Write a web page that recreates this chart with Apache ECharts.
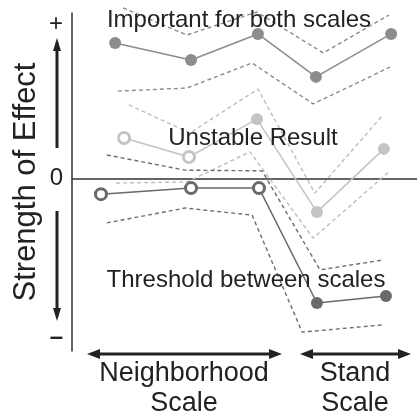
<!DOCTYPE html>
<html>
<head>
<meta charset="utf-8">
<script src="https://cdn.jsdelivr.net/npm/echarts@6/dist/echarts.min.js"></script>
<style>html,body{margin:0;padding:0;background:#fff;}#c{width:417px;height:418px;}</style>
</head>
<body>
<div id="c"></div>
<script>
// ---- data (abstract units: x 0..10, y -5.1..4.9) ----
var importantX = [1.25, 3.45, 5.39, 7.07, 9.25];
var importantY = [4.01, 3.51, 4.28, 3.01, 4.28];
var importantUpX = [1.48, 3.33, 5.36, 7.28, 9.19];
var importantUpY = [5.05, 4.25, 4.93, 3.72, 4.84];
var importantLoX = [1.33, 3.33, 5.22, 6.99, 9.22];
var importantLoY = [2.59, 2.68, 3.42, 2.21, 3.30];

var unstableX = [1.51, 3.39, 5.36, 7.10, 9.04];
var unstableY = [1.20, 0.64, 1.76, -0.99, 0.88];
var unstableHollow = [true, true, false, false, false];
var unstableUpX = [1.65, 3.42, 5.39, 7.04, 9.01];
var unstableUpY = [2.18, 1.35, 2.65, -0.43, 1.88];
var unstableLoX = [1.28, 3.33, 5.16, 6.99, 9.22];
var unstableLoY = [-0.13, -0.10, 0.79, -1.76, 0.23];

var thresholdX = [0.84, 3.45, 5.42, 7.10, 9.10];
var thresholdY = [-0.46, -0.28, -0.28, -3.68, -3.47];
var thresholdHollow = [true, true, true, false, false];
var thresholdUpX = [1.01, 3.28, 5.51, 7.19, 8.99];
var thresholdUpY = [0.70, 0.25, 0.23, -2.70, -2.41];
var thresholdLoX = [1.01, 3.28, 5.22, 6.67, 8.99];
var thresholdLoY = [-1.31, -0.87, -1.08, -4.54, -4.33];

var yTickValues = [4.57, 0, -4.69];
var yTickText = ['+', '0', '{d|\u2013}'];

function pairs(xs, ys) { return xs.map(function (x, i) { return [x, ys[i]]; }); }
function points(xs, ys, hollow, color) {
  return xs.map(function (x, i) {
    var h = hollow && hollow[i];
    return {
      value: [x, ys[i]],
      symbolSize: h ? 11 : 12,
      itemStyle: h ? { color: '#fff', borderColor: color, borderWidth: 3 } : { color: color, borderWidth: 0 }
    };
  });
}
function band(xs, ys, color) {
  return {
    type: 'line', data: pairs(xs, ys), showSymbol: false, symbol: 'none', clip: false, silent: true, z: 1,
    lineStyle: { color: color, width: 1.4, type: [4, 3] }
  };
}
function main(xs, ys, hollow, color) {
  return {
    type: 'line', data: points(xs, ys, hollow, color), symbol: 'circle', clip: false, silent: true, z: 3,
    lineStyle: { color: color, width: 1.5 }
  };
}

var cImp = '#8c8c8c', cUns = '#c4c4c4', cThr = '#6a6a6a';
var font = '"Liberation Sans", Arial, sans-serif';
var ink = '#222';

function txt(x, y, s, size, rot) {
  return { type: 'text', x: x, y: y, rotation: rot || 0, z: 100,
    style: { text: s, fill: ink, font: size + 'px ' + font, textAlign: 'center', textVerticalAlign: 'middle' } };
}
function hArrow(x1, x2, y, left, right) {
  var els = [{ type: 'line', z: 100, shape: { x1: x1 + (left ? 8 : 0), y1: y, x2: x2 - (right ? 8 : 0), y2: y }, style: { stroke: ink, lineWidth: 3 } }];
  if (left) els.push({ type: 'polygon', z: 100, shape: { points: [[x1, y], [x1 + 13, y - 5], [x1 + 13, y + 5]] }, style: { fill: ink } });
  if (right) els.push({ type: 'polygon', z: 100, shape: { points: [[x2, y], [x2 - 13, y - 5], [x2 - 13, y + 5]] }, style: { fill: ink } });
  return els;
}
function vArrow(x, yFrom, yTip) {
  var dir = yTip < yFrom ? 1 : -1;
  return [
    { type: 'line', z: 100, shape: { x1: x, y1: yFrom, x2: x, y2: yTip + dir * 8 }, style: { stroke: ink, lineWidth: 3 } },
    { type: 'polygon', z: 100, shape: { points: [[x, yTip], [x - 4, yTip + dir * 13], [x + 4, yTip + dir * 13]] }, style: { fill: ink } }
  ];
}

var chart = echarts.init(document.getElementById('c'), null, { renderer: 'canvas' });
chart.setOption({
  animation: false,
  backgroundColor: '#fff',
  grid: { left: 72, right: 0, top: 13, bottom: 67, containLabel: false, outerBoundsMode: 'none' },
  xAxis: {
    type: 'value', min: 0, max: 10,
    axisLine: { show: true, onZero: true, lineStyle: { color: '#333', width: 1.5 } },
    axisTick: { show: false }, axisLabel: { show: false }, splitLine: { show: false }
  },
  yAxis: {
    type: 'value', min: -5.1, max: 4.9,
    axisLine: { show: true, lineStyle: { color: '#333', width: 1.5 } },
    axisTick: { show: false }, splitLine: { show: false },
    axisLabel: {
      customValues: yTickValues, margin: 9, fontSize: 24, fontFamily: font, color: ink,
      rich: { d: { fontSize: 24, fontFamily: font, fontWeight: 'bold', color: ink } },
      formatter: function (v) { var i = yTickValues.indexOf(v); return i >= 0 ? yTickText[i] : ''; }
    }
  },
  series: [
    band(importantUpX, importantUpY, cImp),
    band(importantLoX, importantLoY, cImp),
    band(unstableUpX, unstableUpY, '#bdbdbd'),
    band(unstableLoX, unstableLoY, '#bdbdbd'),
    band(thresholdUpX, thresholdUpY, '#6e6e6e'),
    band(thresholdLoX, thresholdLoY, '#6e6e6e'),
    main(importantX, importantY, null, cImp),
    main(unstableX, unstableY, unstableHollow, cUns),
    main(thresholdX, thresholdY, thresholdHollow, cThr)
  ],
  graphic: [
    txt(239, 20, 'Important for both scales', 24),
    txt(253, 138.5, 'Unstable Result', 24),
    txt(246, 280, 'Threshold between scales', 24),
    txt(26, 182, 'Strength of Effect', 31, Math.PI / 2),
    txt(184, 374, 'Neighborhood', 27),
    txt(184, 404, 'Scale', 27),
    txt(355, 374, 'Stand', 27),
    txt(355, 404, 'Scale', 27)
  ].concat(vArrow(57, 148, 38), vArrow(57, 211, 321), hArrow(87, 282, 354, true, true), hArrow(300, 411, 354, true, true))
});
</script>
</body>
</html>
